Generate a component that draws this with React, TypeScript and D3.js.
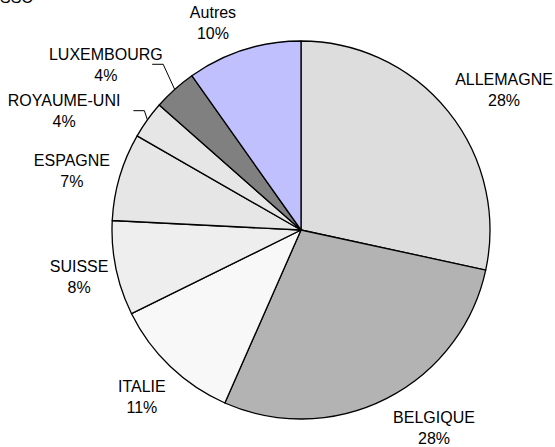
import React from 'react';
import * as d3 from 'd3';

// Data
const countries = ['ALLEMAGNE', 'BELGIQUE', 'ITALIE', 'SUISSE', 'ESPAGNE', 'ROYAUME-UNI', 'LUXEMBOURG', 'Autres'];
const shares = [28.4, 28.2, 11.1, 8.1, 7.5, 3.2, 3.7, 9.8];
const percentLabels = ['28%', '28%', '11%', '8%', '7%', '4%', '4%', '10%'];

// Styles / layout
const colors = ['#dddddd', '#b3b3b3', '#f8f8f8', '#eeeeee', '#e6e6e6', '#e6e6e6', '#808080', '#c0c0ff'];
const labelAngleShift = [4.3, -6.9, -0.1, -0.3, -2.0, -9.1, -7.9, -5.4];
const labelDistance = [246.6, 238.5, 230.6, 226.9, 236.5, 264.8, 255.4, 224.9];
const leaderElbowDx = [null, null, null, null, null, 3, 11.5, null];

const W = 555, H = 447;
const cx = 301, cy = 230, R = 189;
const FONT = '"Liberation Sans", Arial, sans-serif';

export default function App() {
  const pie = d3.pie<number>().value((d) => d).sort(null);
  const arcs = pie(shares);
  const arc = d3.arc<d3.PieArcDatum<number>>().innerRadius(0).outerRadius(R);

  return (
    <svg width={W} height={H} style={{ position: 'absolute', left: 0, top: 0, background: '#fff' }}>
      <text x={0} y={3} fontFamily={FONT} fontSize={16} fill="#000">SSC</text>
      <g transform={`translate(${cx},${cy})`}>
        {arcs.map((a, i) => (
          <path key={i} d={arc(a) || ''} fill={colors[i]} stroke="#000" strokeWidth={1.3} strokeLinejoin="round" />
        ))}
        {arcs.map((a, i) => {
          const mid = (a.startAngle + a.endAngle) / 2;
          const ang = mid + (labelAngleShift[i] * Math.PI) / 180;
          const lx = Math.sin(ang) * labelDistance[i];
          const ly = -Math.cos(ang) * labelDistance[i];
          const els: React.ReactNode[] = [];
          const dx = leaderElbowDx[i];
          if (dx !== null) {
            const ex = Math.sin(mid) * R;
            const ey = -Math.cos(mid) * R;
            const elbowX = ex - dx;
            const elbowY = ly - 1;
            const pts: [number, number][] = [[ex, ey], [elbowX, elbowY], [elbowX - 11, elbowY]];
            els.push(
              <path key="l" d={d3.line()(pts) || ''} fill="none" stroke="#000" strokeWidth={1} />
            );
          }
          els.push(
            <text key="t" textAnchor="middle" fontFamily={FONT} fontSize={16} fill="#000">
              <tspan x={lx} y={ly - 5.25}>{countries[i]}</tspan>
              <tspan x={lx} y={ly + 15.75}>{percentLabels[i]}</tspan>
            </text>
          );
          return <g key={i}>{els}</g>;
        })}
      </g>
    </svg>
  );
}
